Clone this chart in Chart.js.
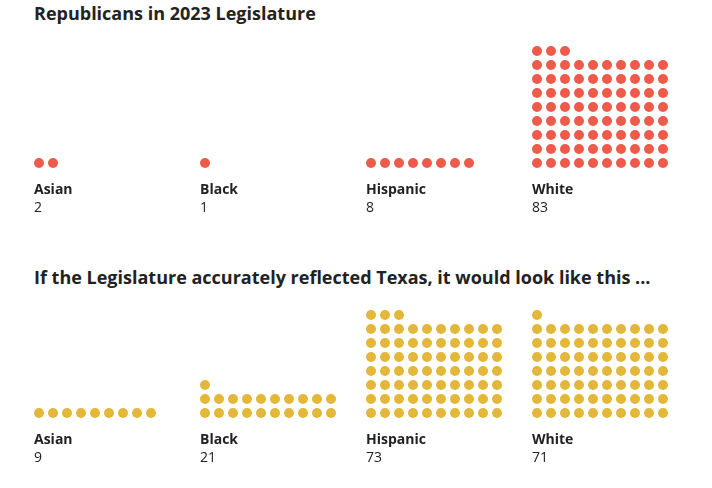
<!DOCTYPE html>
<html>
<head>
<meta charset="utf-8">
<script src="https://cdn.jsdelivr.net/npm/chart.js"></script>
<style>
  body { margin: 0; background: #fff; font-family: 'Open Sans', sans-serif; color: #222; }
  #page { position: relative; width: 712px; height: 488px; }
  h2 { position: absolute; left: 34px; margin: 0; font-size: 18px; font-weight: 700; line-height: 26px; color: #222; white-space: nowrap; }
  .panel { position: absolute; left: 0; width: 712px; height: 180px; }
</style>
</head>
<body>
<div id="page">
  <h2 style="top:0px">Republicans in 2023 Legislature</h2>
  <div class="panel" style="top:40px"><canvas id="actualChart" width="712" height="180"></canvas></div>
  <h2 style="top:264px">If the Legislature accurately reflected Texas, it would look like this ...</h2>
  <div class="panel" style="top:290px"><canvas id="reflectedChart" width="712" height="180"></canvas></div>
</div>
<script>
// waffle data
const categories = ['Asian', 'Black', 'Hispanic', 'White'];
const actualSeats = [2, 1, 8, 83];
const reflectedSeats = [9, 21, 73, 71];
const perRow = 10;

const dotStep = 14;          // px per dot
const groupGap = 166 / dotStep; // group spacing in dot units

// one point per seat, 10 to a row, stacked from the bottom
function dotsFor(counts) {
  const pts = [];
  counts.forEach((n, g) => {
    for (let i = 0; i < n; i++) {
      pts.push({ x: g * groupGap + (i % perRow), y: Math.floor(i / perRow) });
    }
  });
  return pts;
}

const labelPlugin = {
  id: 'groupLabels',
  afterDraw(chart, args, opts) {
    const { ctx, chartArea, scales } = chart;
    ctx.save();
    ctx.textAlign = 'left';
    ctx.textBaseline = 'middle';
    ctx.fillStyle = '#222';
    categories.forEach((name, g) => {
      const x = scales.x.getPixelForValue(g * groupGap) - 5;
      ctx.font = 'bold 14px "Open Sans"';
      ctx.fillText(name, x, chartArea.bottom + 15);
      ctx.font = '14px "Open Sans"';
      ctx.fillText(String(opts.counts[g]), x, chartArea.bottom + 33);
    });
    ctx.restore();
  }
};

function drawWaffle(id, counts, color) {
  const minX = -39 / dotStep;
  const maxY = 123 / dotStep;
  new Chart(document.getElementById(id), {
    type: 'scatter',
    data: {
      datasets: [{
        data: dotsFor(counts),
        backgroundColor: color,
        borderWidth: 0,
        pointRadius: 5,
        pointHoverRadius: 5,
        clip: false
      }]
    },
    options: {
      responsive: false,
      animation: false,
      layout: { autoPadding: false, padding: { left: 0, right: 0, top: 0, bottom: 45 } },
      scales: {
        x: { display: false, min: minX, max: minX + 712 / dotStep },
        y: { display: false, min: maxY - 135 / dotStep, max: maxY }
      },
      plugins: {
        legend: { display: false },
        tooltip: { enabled: false },
        groupLabels: { counts: counts }
      }
    },
    plugins: [labelPlugin]
  });
}

drawWaffle('actualChart', actualSeats, '#ef5a4b');
drawWaffle('reflectedChart', reflectedSeats, '#e3b73a');
</script>
</body>
</html>
